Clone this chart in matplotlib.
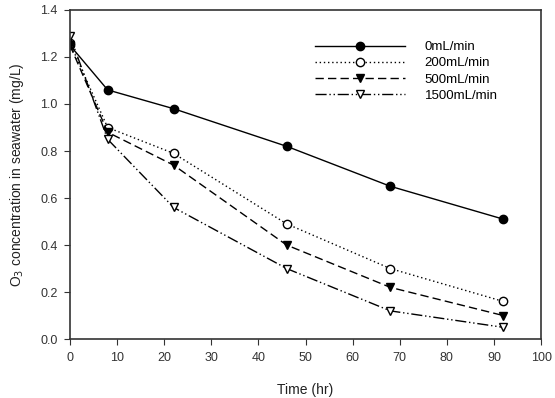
import matplotlib.pyplot as plt

plt.rcParams['font.family'] = ['Liberation Sans', 'DejaVu Sans']

# data
time_hr = [0, 8, 22, 46, 68, 92]
flow_labels = ['0mL/min', '200mL/min', '500mL/min', '1500mL/min']
o3_0 = [1.25, 1.06, 0.98, 0.82, 0.65, 0.51]
o3_200 = [1.26, 0.90, 0.79, 0.49, 0.30, 0.16]
o3_500 = [1.25, 0.88, 0.74, 0.40, 0.22, 0.10]
o3_1500 = [1.29, 0.85, 0.56, 0.30, 0.12, 0.05]

fig = plt.figure(figsize=(5.55, 3.98), dpi=100)
ax = fig.add_axes([0.126, 0.148, 0.849, 0.827])

ms = 6
ax.plot(time_hr, o3_0, '-', color='black', lw=1, marker='o', ms=ms,
        mfc='black', mec='black', label=flow_labels[0])
ax.plot(time_hr, o3_200, color='black', lw=1, ls=(0, (1, 2)), marker='o', ms=ms,
        mfc='white', mec='black', label=flow_labels[1])
ax.plot(time_hr, o3_500, color='black', lw=1, ls=(0, (6, 3)), marker='v', ms=ms,
        mfc='black', mec='black', label=flow_labels[2])
ax.plot(time_hr, o3_1500, color='black', lw=1, ls=(0, (8, 2, 1, 2, 1, 2)), marker='v', ms=ms,
        mfc='white', mec='black', label=flow_labels[3])

ax.set_xlim(0, 100)
ax.set_ylim(0, 1.4)
ax.set_xticks(range(0, 101, 10))
ax.set_yticks([0.0, 0.2, 0.4, 0.6, 0.8, 1.0, 1.2, 1.4])
ax.set_yticklabels(['0.0', '0.2', '0.4', '0.6', '0.8', '1.0', '1.2', '1.4'])
ax.tick_params(direction='out', length=4, labelsize=9, colors='#333333', pad=5)
ax.tick_params(top=False, right=False)
for s in ax.spines.values():
    s.set_linewidth(1.2)
    s.set_color('#333333')

ax.set_xlabel('Time (hr)', fontsize=10, color='#222222', labelpad=14)
ax.set_ylabel('O$_3$ concentration in seawater (mg/L)', fontsize=10, color='#222222', labelpad=10)

leg = ax.legend(loc='upper left', bbox_to_anchor=(0.495, 0.942), frameon=False, fontsize=9.5,
                handlelength=6.8, numpoints=1, labelspacing=0.3, handletextpad=1.5)

fig.savefig('out.png', dpi=100)
